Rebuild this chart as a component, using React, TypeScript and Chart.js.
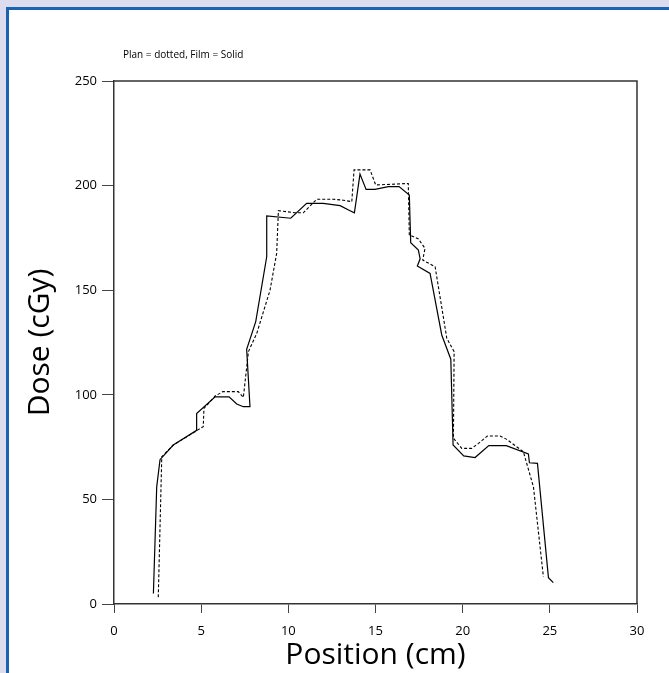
import React, { useEffect, useRef } from "react";
import { Chart, registerables } from "chart.js";

Chart.register(...registerables);

// Film (solid) measurements
const filmX = [2.26, 2.45, 2.64, 3.4, 4.74, 4.74, 5.8, 6.6, 7.04, 7.42, 7.8, 7.61, 8.13, 8.76, 8.76, 10.14, 11.05, 12.0, 12.97, 13.54, 13.79, 14.11, 14.46, 14.97, 15.74, 16.35, 16.94, 17.02, 17.46, 17.56, 17.4, 18.13, 18.8, 19.32, 19.45, 20.06, 20.71, 21.5, 22.5, 23.77, 23.83, 24.29, 24.92, 25.2];
const filmY = [5, 56, 69, 76, 83, 91, 99, 99, 95.6, 94.3, 94.3, 121.7, 135, 166, 185.5, 184.4, 191.5, 191.5, 190.4, 188, 187, 205.5, 198.2, 198.2, 199.5, 199.5, 195.5, 172.7, 169.2, 165, 161.6, 158, 128.6, 117, 76, 70.8, 70, 75.7, 75.7, 71.7, 67.5, 67.2, 12.6, 10.2];

// Plan (dotted) values
const planX = [2.54, 2.74, 3.4, 5.12, 5.16, 5.8, 6.24, 7.13, 7.42, 7.71, 8.19, 8.95, 9.33, 9.43, 10.38, 10.86, 11.63, 12.58, 13.16, 13.64, 13.77, 14.69, 15.01, 16.88, 16.94, 17.46, 17.84, 17.71, 18.42, 19.09, 19.51, 19.47, 19.95, 20.52, 20.91, 21.42, 22.15, 22.53, 23.48, 24.06, 24.63];
const planY = [3.2, 70.4, 76, 84.8, 93.5, 99.4, 101.5, 101.5, 98.8, 120.6, 129.4, 150, 167.6, 188, 187, 187, 193.5, 193.5, 193, 192.3, 207.5, 207.5, 200.3, 201, 176.4, 174.5, 170, 164.4, 161.2, 127, 120.6, 79.2, 74.4, 74.4, 76.8, 80.3, 80.3, 78.7, 72.8, 56, 13];

const xTicks = [0, 5, 10, 15, 20, 25, 30];
const yTicks = [0, 50, 100, 150, 200, 250];
const noteText = "Plan = dotted, Film = Solid";
const xTitle = "Position (cm)";
const yTitle = "Dose (cGy)";

const FONT = "'Open Sans', 'DejaVu Sans', sans-serif";

export default function App() {
  const ref = useRef<HTMLCanvasElement>(null);

  useEffect(() => {
    document.body.style.margin = "0";
    const boxPlugin = {
      id: "boxAndNote",
      afterDraw(chart: any) {
        const { ctx, chartArea: a } = chart;
        ctx.save();
        ctx.strokeStyle = "#333";
        ctx.lineWidth = 1.5;
        ctx.beginPath();
        ctx.moveTo(a.left, a.top);
        ctx.lineTo(a.right, a.top);
        ctx.lineTo(a.right, a.bottom);
        ctx.stroke();
        ctx.font = `10px ${FONT}`;
        ctx.fillStyle = "#000";
        ctx.textBaseline = "middle";
        ctx.textAlign = "left";
        ctx.fillText(noteText, 123, 55);
        ctx.restore();
      },
    };

    const chart = new Chart(ref.current as HTMLCanvasElement, {
      type: "scatter",
      data: {
        datasets: [
          {
            label: "Film",
            data: filmX.map((x, i) => ({ x, y: filmY[i] })),
            showLine: true,
            borderColor: "#000",
            backgroundColor: "#000",
            borderWidth: 1.2,
            pointRadius: 0,
            fill: false,
            tension: 0,
          },
          {
            label: "Plan",
            data: planX.map((x, i) => ({ x, y: planY[i] })),
            showLine: true,
            borderColor: "#000",
            backgroundColor: "#000",
            borderWidth: 1.1,
            borderDash: [3, 2],
            pointRadius: 0,
            fill: false,
            tension: 0,
          },
        ],
      },
      options: {
        animation: false,
        responsive: false,
        events: [],
        layout: { padding: { left: 0, right: 32, top: 81, bottom: 0 } },
        plugins: {
          legend: { display: false },
          tooltip: { enabled: false },
          title: { display: false },
        },
        scales: {
          x: {
            type: "linear",
            min: 0,
            max: 30,
            afterBuildTicks: (s: any) => {
              s.ticks = xTicks.map((v) => ({ value: v }));
            },
            afterFit: (s: any) => {
              s.height = 69;
            },
            grid: { drawOnChartArea: false, drawTicks: true, tickLength: 9, color: "#444", lineWidth: 1 },
            border: { display: true, color: "#333", width: 1.5 },
            ticks: { color: "#000", padding: 10, font: { family: FONT, size: 13 }, maxRotation: 0 },
            title: {
              display: true,
              text: xTitle,
              color: "#000",
              font: { family: FONT, size: 30 },
              padding: { top: 0, bottom: 0 },
            },
          },
          y: {
            type: "linear",
            min: 0,
            max: 250,
            afterBuildTicks: (s: any) => {
              s.ticks = yTicks.map((v) => ({ value: v }));
            },
            afterFit: (s: any) => {
              s.width = 114;
            },
            grid: { drawOnChartArea: false, drawTicks: true, tickLength: 12, color: "#444", lineWidth: 1 },
            border: { display: true, color: "#333", width: 1.5 },
            ticks: { color: "#000", padding: 5, font: { family: FONT, size: 13 } },
            title: {
              display: true,
              text: yTitle,
              color: "#000",
              font: { family: FONT, size: 30 },
              padding: { top: 22, bottom: 0 },
            },
          },
        },
      },
      plugins: [boxPlugin],
    });
    return () => chart.destroy();
  }, []);

  return (
    <div style={{ position: "relative", width: 669, height: 673, background: "#dcdcee", overflow: "hidden" }}>
      <div
        style={{
          position: "absolute",
          left: 6,
          top: 7,
          right: 0,
          bottom: 0,
          borderLeft: "3px solid #1a63b0",
          borderTop: "3px solid #1a63b0",
          background: "#ffffff",
        }}
      />
      <canvas
        ref={ref}
        width={669}
        height={673}
        style={{ position: "absolute", left: 0, top: 0, width: 669, height: 673 }}
      />
    </div>
  );
}
